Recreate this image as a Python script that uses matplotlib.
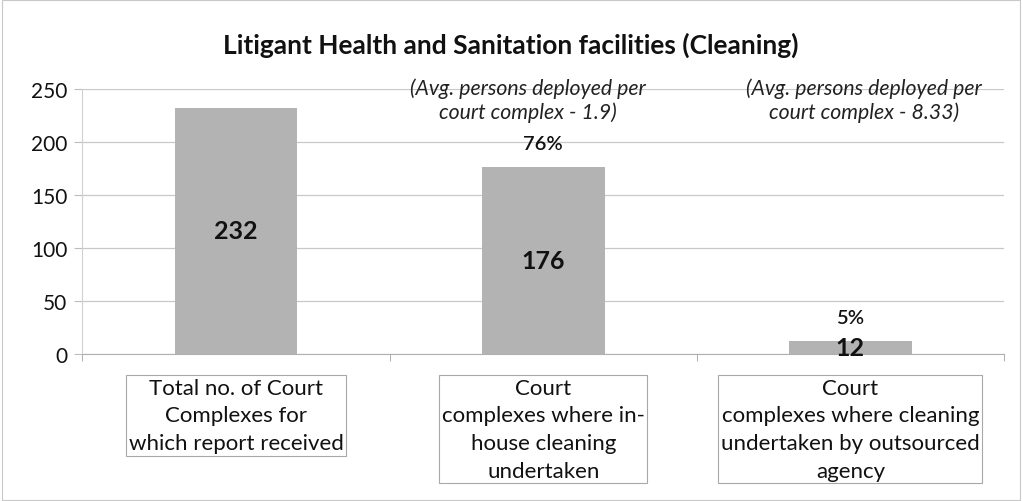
import numpy as np
import matplotlib.pyplot as plt
from matplotlib.patches import Rectangle

# data
categories = ['Total no. of Court\nComplexes for\nwhich report received',
              'Court\ncomplexes where in-\nhouse cleaning\nundertaken',
              'Court\ncomplexes where cleaning\nundertaken by outsourced\nagency']
values = [232, 176, 12]
pct_labels = ['', '76%', '5%']
avg_notes = ['', '(Avg. persons deployed per\ncourt complex - 1.9)',
             '(Avg. persons deployed per\ncourt complex - 8.33)']
yticks = [0, 50, 100, 150, 200, 250]

plt.rcParams['font.family'] = ['Lato', 'DejaVu Sans']

fig = plt.figure(figsize=(10.22, 5.02), dpi=100)
ax = fig.add_axes([0.0807, 0.293, 0.9016, 0.528])

x = np.arange(len(values))
bars = ax.bar(x, values, width=0.40, color='#b3b3b3', zorder=2)

ax.set_xlim(-0.5, len(values) - 0.5)
ax.set_ylim(0, 250)
ax.set_yticks(yticks)
ax.tick_params(axis='y', labelsize=15, length=6, color='#bdbdbd', pad=5,
               labelcolor='#111111')
ax.yaxis.grid(True, color='#c8c8c8', lw=0.9, zorder=0)
for s in ['top', 'right']:
    ax.spines[s].set_visible(False)
ax.spines['left'].set_color('#d0d0d0')
ax.spines['bottom'].set_color('#b0b0b0')

# category labels in boxes
ax.set_xticks(x)
ax.set_xticklabels(categories, fontsize=16, linespacing=1.48, color='#111111')
ax.tick_params(axis='x', length=0, pad=17)
for lbl in ax.get_xticklabels():
    lbl.set_multialignment('center')
    lbl.set_bbox(dict(boxstyle='square,pad=0.12', fc='white', ec='#a8a8a8', lw=0.8))
ax.set_xticks(np.arange(len(values) + 1) - 0.5, minor=True)
ax.tick_params(axis='x', which='minor', length=5, color='#a0a0a0')

note_shift = [0, -11, 10]
for xi, v, p, n, dx in zip(x, values, pct_labels, avg_notes, note_shift):
    ax.text(xi, v / 2, str(v), ha='center', va='center', fontsize=18,
            fontweight='bold', color='#111111', zorder=3)
    if p:
        ax.annotate(p, (xi, v), xytext=(0, 17), textcoords='offset points',
                    ha='center', va='center', fontsize=14.5, fontweight='semibold',
                    color='#111111')
    if n:
        ax.annotate(n, (xi, 240), xytext=(dx, 0), textcoords='offset points',
                    ha='center', va='center', fontsize=15.3,
                    style='italic', color='#222222', linespacing=1.2)

fig.suptitle('Litigant Health and Sanitation facilities (Cleaning)', y=0.935,
             fontsize=19, fontweight='bold', color='#111111')

fig.patches.append(Rectangle((0.002, 0.002), 0.996, 0.996, transform=fig.transFigure,
                             fill=False, ec='#c8c8c8', lw=0.8))

fig.savefig('out.png', dpi=100)
